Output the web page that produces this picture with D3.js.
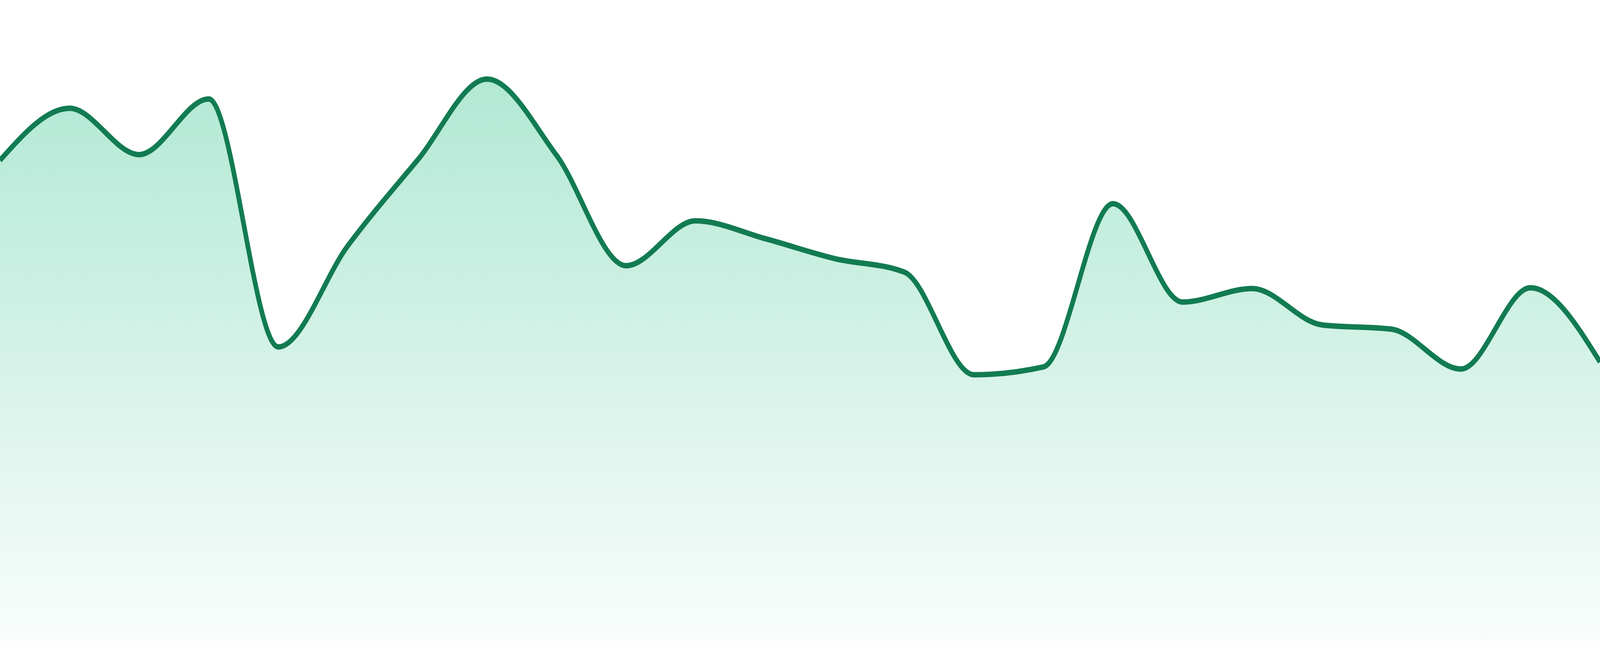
<!DOCTYPE html>
<html lang="en">
<head>
    <meta charset="UTF-8">
    <title>Area trend</title>
    <script src="https://d3js.org/d3.v7.min.js"></script>
    <style>
        html, body {
            margin: 0;
            padding: 0;
            background: #ffffff;
            overflow: hidden;
        }
        #chart {
            display: block;
            width: 100vw;
            height: 100vh;
        }
        .line {
            fill: none;
            stroke: #127b52;
            stroke-width: 14;
            stroke-linejoin: round;
        }
    </style>
</head>
<body>
    <svg id="chart"></svg>

    <script>
        // one value per day
        const days = [1, 2, 3, 4, 5, 6, 7, 8, 9, 10, 11, 12, 13, 14, 15, 16, 17, 18, 19, 20, 21, 22, 23, 24];
        const values = [67.5, 74.8, 68.3, 76.1, 41.3, 55.5, 67.5, 78.9, 68.2, 52.7, 59.0, 56.5,
                        53.7, 51.8, 37.4, 38.5, 61.4, 47.6, 49.5, 44.4, 43.8, 38.2, 49.6, 39.2];

        // drawing space; the svg is scaled to fill the window
        const width = 4800,
            height = 1680,
            margin = { top: 0, right: 0, bottom: 38, left: 0 };

        const data = days.map((d, i) => ({ day: d, value: values[i] }));

        const svg = d3.select("#chart")
            .attr("viewBox", `0 0 ${width} ${height}`)
            .attr("preserveAspectRatio", "none");

        const x = d3.scalePoint()
            .domain(days)
            .range([margin.left, width - margin.right]);

        const y = d3.scaleLinear()
            .domain([0, 90])
            .range([height - margin.bottom, margin.top]);

        // vertical fade for the area
        const grad = svg.append("defs")
            .append("linearGradient")
            .attr("id", "fade")
            .attr("gradientUnits", "userSpaceOnUse")
            .attr("x1", 0).attr("x2", 0)
            .attr("y1", y(d3.max(values)))
            .attr("y2", y(0));
        grad.append("stop").attr("offset", 0).attr("stop-color", "#34c38f").attr("stop-opacity", 0.38);
        grad.append("stop").attr("offset", 1).attr("stop-color", "#34c38f").attr("stop-opacity", 0.03);

        const area = d3.area()
            .x(d => x(d.day))
            .y0(y(0))
            .y1(d => y(d.value))
            .curve(d3.curveMonotoneX);

        const line = d3.line()
            .x(d => x(d.day))
            .y(d => y(d.value))
            .curve(d3.curveMonotoneX);

        svg.append("path")
            .datum(data)
            .attr("fill", "url(#fade)")
            .attr("d", area);

        svg.append("path")
            .datum(data)
            .attr("class", "line")
            .attr("d", line);
    </script>
</body>
</html>
